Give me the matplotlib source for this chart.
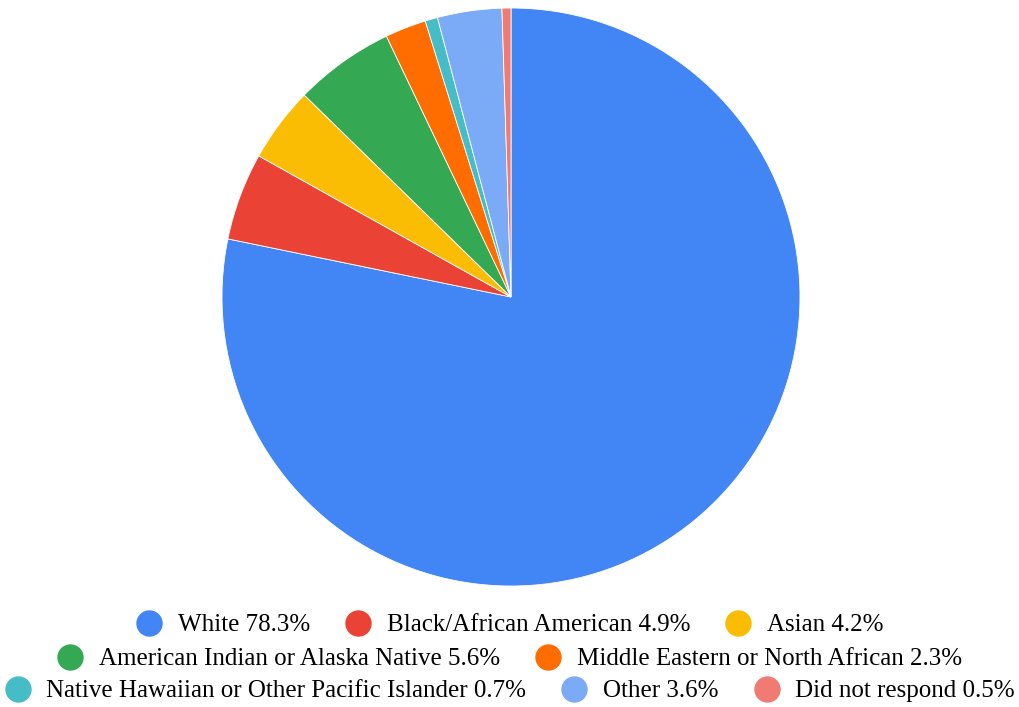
import matplotlib
matplotlib.use("Agg")
import matplotlib.pyplot as plt
from matplotlib.lines import Line2D

categories = [
    "White",
    "Black/African American",
    "Asian",
    "American Indian or Alaska Native",
    "Middle Eastern or North African",
    "Native Hawaiian or Other Pacific Islander",
    "Other",
    "Did not respond",
]
shares = [78.3, 4.9, 4.2, 5.6, 2.3, 0.7, 3.6, 0.5]
colors = ["#4285F4", "#EA4335", "#FBBC04", "#34A853",
          "#FF6D01", "#46BDC6", "#7BAAF7", "#F07B72"]
legend_rows = [[0, 1, 2], [3, 4], [5, 6, 7]]

plt.rcParams["font.family"] = ["Liberation Serif", "DejaVu Serif"]

W, H = 1020, 707
fig = plt.figure(figsize=(W / 100, H / 100), dpi=100)

cx, cy, r = 511, 297, 289
ax = fig.add_axes([(cx - r) / W, (H - cy - r) / H, 2 * r / W, 2 * r / H])
ax.pie(shares, colors=colors, startangle=90, counterclock=False,
       wedgeprops=dict(edgecolor="white", linewidth=0.6))
ax.set_aspect("equal")
ax.set_xlim(-1, 1)
ax.set_ylim(-1, 1)
ax.axis("off")

row_y = [625, 659, 691]
for row, y in zip(legend_rows, row_y):
    handles = [Line2D([], [], linestyle="none", marker="o", markersize=18,
                      markerfacecolor=colors[i], markeredgecolor=colors[i])
               for i in row]
    labels = [f"{categories[i]} {shares[i]}%" for i in row]
    fig.legend(handles, labels, loc="center", bbox_to_anchor=(0.5, 1 - y / H),
               ncol=len(row), frameon=False, fontsize=18,
               handlelength=1.0, handletextpad=0.65, columnspacing=1.42,
               borderpad=0, borderaxespad=0)

fig.savefig("out.png", dpi=100)
